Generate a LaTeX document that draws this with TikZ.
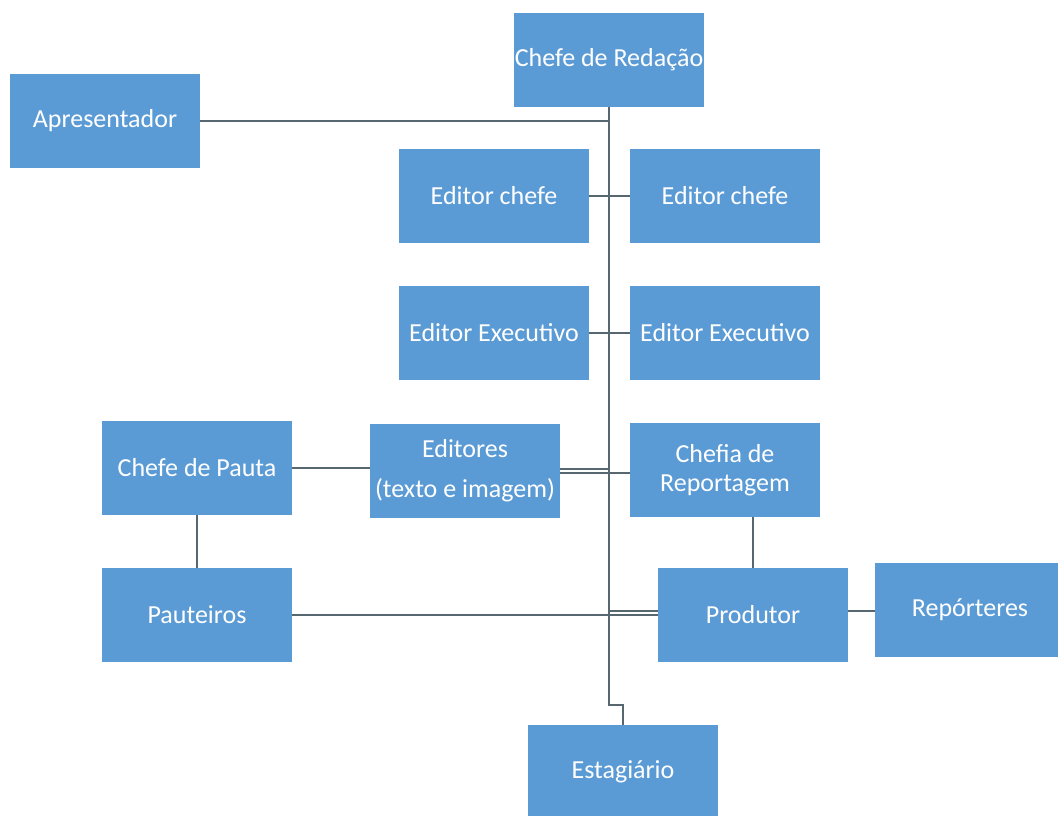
\documentclass[tikz,border=0pt]{standalone}
\usepackage{fontspec}
\setmainfont{Carlito}
\definecolor{boxblue}{HTML}{5B9BD5}
\definecolor{linegray}{HTML}{56676F}
\tikzset{
  role/.style={fill=boxblue, text=white, minimum width=142.5pt, minimum height=70pt,
    inner sep=0pt, align=center, font=\fontsize{19.5}{22}\selectfont},
  link/.style={draw=linegray, line width=1pt}
}
\begin{document}
\begin{tikzpicture}[x=0.75pt,y=-0.75pt]
  \useasboundingbox (0,0) rectangle (1058,815);
  % boxes
  \node[role] (chefe) at (609,60) {Chefe de Redação};
  \node[role] (apres) at (105,121) {Apresentador};
  \node[role] (edchefeL) at (494,196) {Editor chefe};
  \node[role] (edchefeR) at (725,196) {Editor chefe};
  \node[role] (edexecL) at (494,333) {Editor Executivo};
  \node[role] (edexecR) at (725,333) {Editor Executivo};
  \node[role] (pauta) at (197,468) {Chefe de Pauta};
  \node[role] (editores) at (465,471) {Editores\\[8pt](texto e imagem)};
  \node[role] (chefia) at (725,470) {Chefia de\\Reportagem};
  \node[role] (pauteiros) at (197,615) {Pauteiros};
  \node[role] (produtor) at (753,615) {Produtor};
  \node[role] (reporteres) at (970,610) {Repórteres};
  \node[role] (estagiario) at (623,772) {Estagiário};
  % trunk
  \coordinate (jog) at (609,705);
  \draw[link] (chefe.south) -- (jog) -| (estagiario.north);
  \draw[link] (apres.east) -- (apres.east -| chefe.south);
  \draw[link] (edchefeL.east) -- (edchefeR.west);
  \draw[link] (edexecL.east) -- (edexecR.west);
  % editores / chefia
  \coordinate (edA) at ([yshift=1.5pt]editores.east);
  \coordinate (edB) at ([yshift=-1.5pt]editores.east);
  \draw[link] (edA) -- (edA -| chefe.south);
  \draw[link] (edB) -- (edB -| chefia.west);
  \draw[link] (pauta.east) -- (pauta.east -| editores.west);
  \draw[link] (pauta.south) -- (pauteiros.north);
  \draw[link] (produtor.north) -- (produtor.north |- chefia.south);
  % produtor
  \coordinate (prA) at ([yshift=3pt]produtor.west);
  \draw[link] (pauteiros.east) -- (produtor.west);
  \draw[link] (prA -| chefe.south) -- (prA);
  \draw[link] (prA -| produtor.east) -- (prA -| reporteres.west);
\end{tikzpicture}
\end{document}
